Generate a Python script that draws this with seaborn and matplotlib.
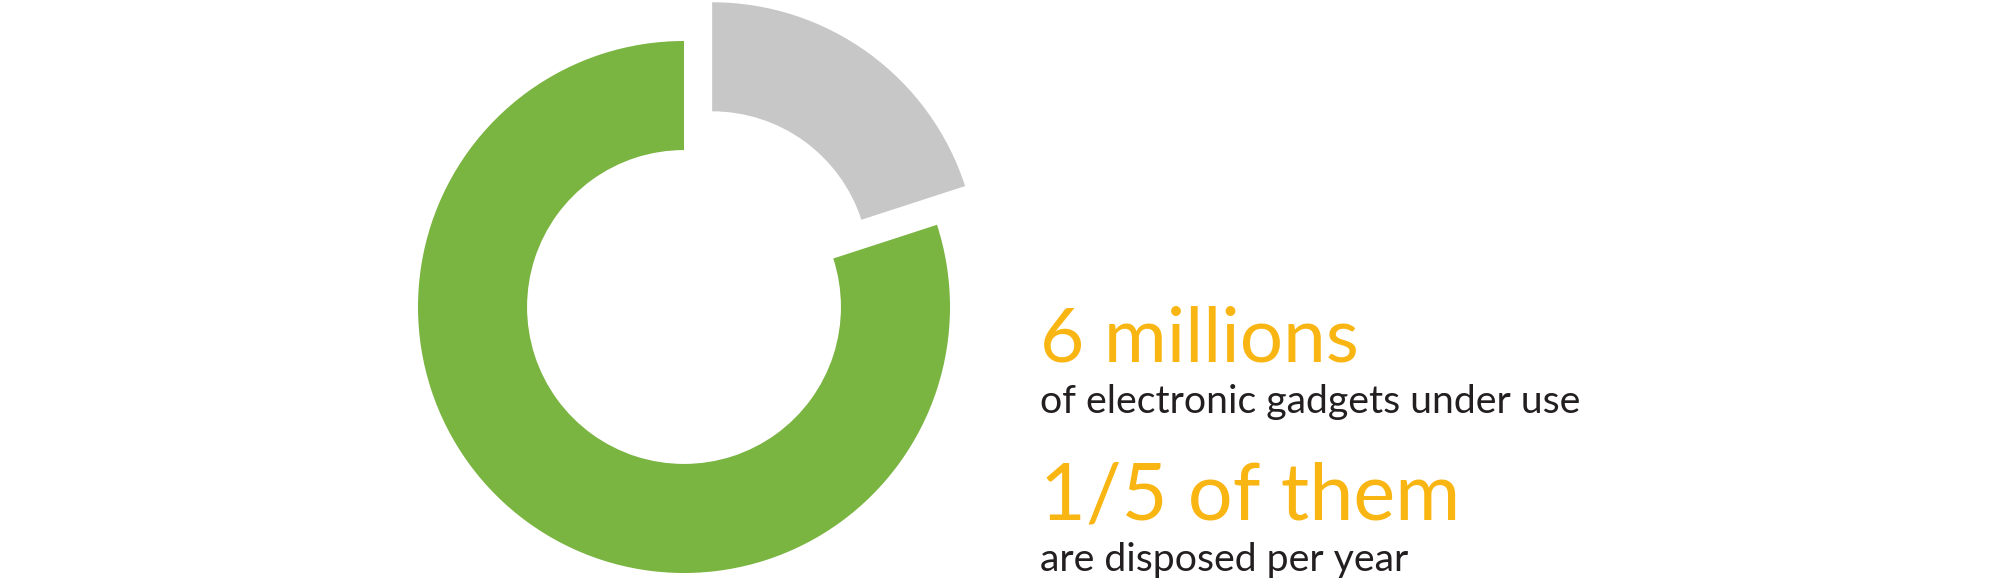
import matplotlib
matplotlib.use("Agg")
import matplotlib.pyplot as plt
import seaborn as sns

sns.set_theme(style="white")
plt.rcParams['font.family'] = ['Lato', 'DejaVu Sans']

# Data
categories = ["Disposed per year", "Still in use"]
shares = [20, 80]
slice_colors = ["#C8C7C8", "#7AB441"]
headline_1 = "6 millions"
caption_1 = "of electronic gadgets under use"
headline_2 = "1/5 of them"
caption_2 = "are disposed per year"

W, H = 2000, 586
fig = plt.figure(figsize=(W / 100, H / 100), dpi=100)
fig.patch.set_facecolor("white")

cx, cy, R = 684, 307, 266
half = 300
ax = fig.add_axes([(cx - half) / W, (H - cy - half) / H, 2 * half / W, 2 * half / H])
ax.pie(shares, colors=slice_colors, startangle=90, counterclock=False,
       explode=[0.18, 0], radius=1,
       wedgeprops=dict(width=0.41, linewidth=0))
lim = half / R
ax.set_xlim(-lim, lim)
ax.set_ylim(-lim, lim)
ax.set_aspect("equal")
ax.axis("off")

orange = "#F9B512"
dark = "#231F20"
x0 = 1040 / W
fig.text(x0, 1 - 362 / H, headline_1, color=orange, fontsize=55, fontweight="normal", va="baseline", ha="left")
fig.text(x0, 1 - 413 / H, caption_1, color=dark, fontsize=28.3, fontweight="normal", va="baseline", ha="left")
fig.text(x0, 1 - 520 / H, headline_2, color=orange, fontsize=57, fontweight="normal", va="baseline", ha="left")
fig.text(x0, 1 - 571 / H, caption_2, color=dark, fontsize=28.3, fontweight="normal", va="baseline", ha="left")

fig.savefig("out.png", dpi=100, facecolor="white")
